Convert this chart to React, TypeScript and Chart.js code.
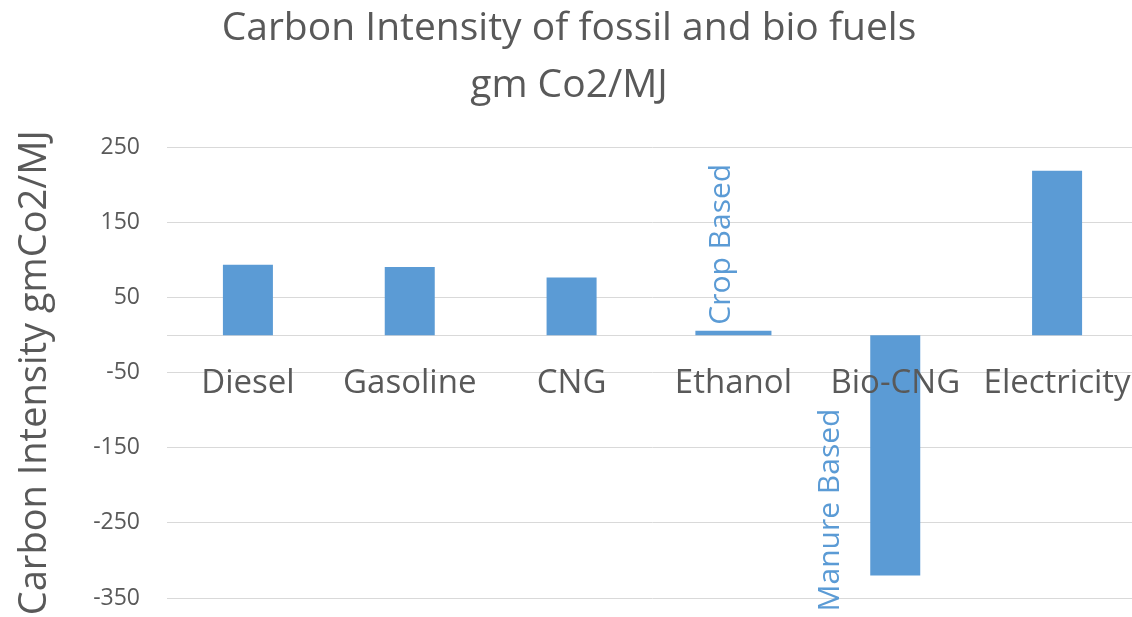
import React, { useEffect, useRef } from 'react';
import { Chart, registerables } from 'chart.js';

Chart.register(...registerables);

// Carbon intensity per fuel, gm CO2 per MJ
const categories = ['Diesel', 'Gasoline', 'CNG', 'Ethanol', 'Bio-CNG', 'Electricity'];
const intensity = [94, 91, 77, 6, -320, 219];
// Feedstock notes written beside the biofuel bars
const feedstockNotes = ['', '', '', 'Crop Based', 'Manure Based', ''];
// Fuels drawn with a wider bar
const wideBarFuels = ['Ethanol'];
// Value axis tick labels
const yTicks = [-350, -250, -150, -50, 50, 150, 250];

const titleLines = ['Carbon Intensity of fossil and bio fuels', 'gm Co2/MJ'];
const yAxisTitle = 'Carbon Intensity gmCo2/MJ';

const BLUE = '#5b9bd5';
const TEXT = '#595959';
const GRID = '#d9d9d9';
const FONT = '"Open Sans"';

const CANVAS_W = 1138;
const CANVAS_H = 617;
const Y_AXIS_WIDTH = 167;

const notesPlugin = {
  id: 'feedstockNotes',
  afterDatasetsDraw(chart: any) {
    const ctx = chart.ctx;
    ctx.save();
    ctx.font = `30px ${FONT}`;
    ctx.fillStyle = BLUE;
    ctx.textBaseline = 'middle';
    ctx.textAlign = 'left';
    chart.data.datasets.forEach((ds: any, di: number) => {
      const meta = chart.getDatasetMeta(di);
      meta.data.forEach((el: any, i: number) => {
        const note = feedstockNotes[i];
        const v = ds.data[i];
        if (!note || v == null) return;
        const { x, y, width } = el.getProps(['x', 'y', 'width'], true);
        let tx: number;
        let ty: number;
        if (v >= 0) {
          // above a short positive bar, just left of its centre
          tx = x - 11.5;
          ty = y - 6;
        } else {
          // left of a negative bar, starting just below its end
          tx = x - width / 2 - 40;
          ty = y + 36;
        }
        ctx.save();
        ctx.translate(tx, ty);
        ctx.rotate(-Math.PI / 2);
        ctx.fillText(note, 0, 0);
        ctx.restore();
      });
    });
    ctx.restore();
  },
};

export default function App() {
  const canvasRef = useRef<HTMLCanvasElement | null>(null);

  useEffect(() => {
    const canvas = canvasRef.current;
    if (!canvas) return;

    const regular = intensity.map((v, i) => (wideBarFuels.includes(categories[i]) ? null : v));
    const wide = intensity.map((v, i) => (wideBarFuels.includes(categories[i]) ? v : null));

    const chart = new Chart(canvas, {
      type: 'bar',
      data: {
        labels: categories,
        datasets: [
          {
            label: 'Carbon Intensity',
            data: regular,
            backgroundColor: BLUE,
            grouped: false,
            categoryPercentage: 1,
            barPercentage: 0.309,
          },
          {
            label: 'Carbon Intensity (wide)',
            data: wide,
            backgroundColor: BLUE,
            grouped: false,
            categoryPercentage: 1,
            barPercentage: 0.47,
          },
        ],
      },
      options: {
        responsive: false,
        animation: false,
        layout: { padding: { top: 0, bottom: 19, left: 0, right: 0 } },
        plugins: {
          legend: { display: false },
          tooltip: { enabled: false },
          title: {
            display: true,
            text: titleLines,
            color: TEXT,
            font: { family: FONT, size: 39, weight: 'normal', lineHeight: 1.45 },
            padding: { top: 1, bottom: 33.5 },
          },
        },
        scales: {
          x: {
            position: { y: 0 },
            grid: { color: 'transparent', drawTicks: false },
            border: { display: true, color: GRID, width: 1 },
            ticks: {
              // category names sit on top of the bars
              z: 1,
              color: TEXT,
              font: { family: FONT, size: 33 },
              padding: 29,
              maxRotation: 0,
              autoSkip: false,
            },
            afterFit(scale: any) {
              scale.paddingLeft = 0;
              scale.paddingRight = 0;
            },
          },
          y: {
            min: yTicks[0],
            max: yTicks[yTicks.length - 1],
            grid: { color: GRID, lineWidth: 1, drawTicks: false },
            border: { display: false },
            ticks: {
              stepSize: yTicks[1] - yTicks[0],
              color: TEXT,
              font: { family: FONT, size: 23 },
              padding: 27,
            },
            title: {
              display: true,
              text: yAxisTitle,
              color: TEXT,
              font: { family: FONT, size: 38, lineHeight: 1.2 },
              padding: { top: 12, bottom: 12 },
            },
            afterFit(scale: any) {
              scale.width = Y_AXIS_WIDTH;
              scale.paddingTop = 0;
              scale.paddingBottom = 0;
            },
          },
        },
      },
      plugins: [notesPlugin],
    });

    return () => chart.destroy();
  }, []);

  return (
    <div
      style={{
        position: 'absolute',
        left: 0,
        top: 0,
        width: 1132,
        height: CANVAS_H,
        overflow: 'hidden',
        background: '#ffffff',
      }}
    >
      <canvas
        ref={canvasRef}
        width={CANVAS_W}
        height={CANVAS_H}
        style={{ width: CANVAS_W, height: CANVAS_H, display: 'block' }}
      />
    </div>
  );
}
